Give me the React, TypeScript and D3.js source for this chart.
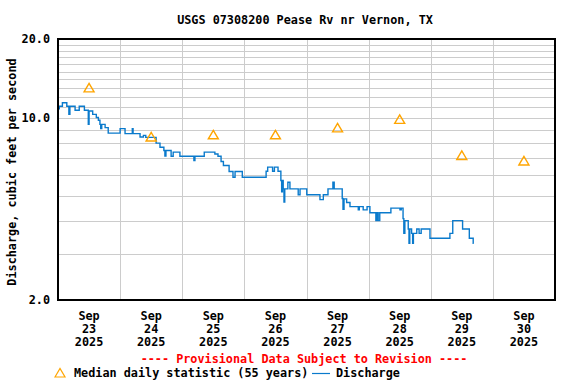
import React from 'react'
import * as d3 from 'd3'

// data
const days = ['23', '24', '25', '26', '27', '28', '29', '30']
const monthLabel = 'Sep'
const yearLabel = '2025'
const medianCfs = [13.0, 8.43, 8.59, 8.59, 9.13, 9.84, 7.16, 6.82]

// discharge change points: hours after Sep 23 00:00, value in cfs (step line)
const dischargeHours = [
  0, 0.5, 1.7, 3.4, 4.2, 4.6, 6.6, 8.2, 10.2, 11.7, 12.0, 13.4, 14.8, 15.6, 16.2, 16.5, 16.9, 18.2, 19.4,
  24.0, 25.9, 28.7, 29.0, 31.7, 33.0, 33.9, 37.9, 39.4, 40.9, 41.3, 41.7, 43.7, 44.5, 47.1,
  52.5, 52.9, 56.5, 60.6, 61.8, 63.0, 63.9, 66.1, 67.6, 68.4, 71.2,
  80.4, 81.0, 82.9, 83.6, 85.0, 86.1, 86.4, 86.7, 87.0, 87.3, 87.6, 88.8, 89.6, 92.8, 93.5, 96.1,
  101.2, 102.5, 104.3, 106.2, 106.7, 109.8, 110.1, 110.5, 111.5, 112.8, 116.0, 116.4, 117.9, 119.4,
  120.5, 122.8, 123.3, 123.7, 124.3, 128.6, 132.1, 132.6, 133.3, 133.6, 134.0, 135.3, 135.6, 135.9,
  136.6, 137.0, 137.3, 138.6, 139.5, 140.3, 143.7, 151.4, 152.5, 156.3, 158.9, 160.4, 160.6,
]
const dischargeCfs = [
  10.8, 11.05, 11.4, 11.05, 10.3, 11.05, 10.67, 11.05, 10.67, 9.42, 10.6, 10.29, 10.0, 9.76, 9.42, 9.07, 9.42, 9.15, 8.72,
  9.07, 8.68, 9.07, 8.68, 8.42, 8.55, 8.4, 7.98, 7.7, 7.48, 7.12, 7.48, 7.11, 7.37, 7.11,
  6.85, 7.11, 7.37, 7.25, 7.11, 6.79, 6.55, 6.21, 5.91, 6.21, 5.91,
  6.23, 6.46, 6.23, 6.46, 6.23, 5.74, 5.2, 5.74, 5.33, 4.75, 5.33, 5.65, 5.33, 5.06, 5.33, 5.06,
  4.85, 5.06, 5.33, 5.65, 5.33, 4.9, 4.45, 4.88, 4.73, 4.56, 4.43, 4.56, 4.43, 4.56,
  4.32, 4.03, 4.32, 4.03, 4.32, 4.5, 4.43, 4.5, 4.1, 3.6, 4.03, 3.74, 3.3, 3.74,
  3.6, 3.3, 3.6, 3.74, 3.6, 3.74, 3.45, 3.6, 4.03, 3.74, 3.45, 3.3, 3.3,
]
const yMinorTicks = [3, 4, 5, 6, 7, 8, 9, 10, 11, 12, 13, 14, 15, 16, 17, 18, 19]
const yLabels = [20, 10, 2]

const font = '"DejaVu Sans Mono", "Liberation Mono", monospace'

export default function App() {
  const width = 576, height = 384
  const left = 58, right = 555, top = 39, bottom = 300

  const x = d3.scaleLinear().domain([0, days.length * 24]).range([left, right])
  const y = d3.scaleLog().domain([2, 20]).range([bottom, top])

  const pts: [number, number][] = dischargeHours.map((h, i) => [h, dischargeCfs[i]])
  const line = d3.line<[number, number]>()
    .x(d => x(d[0]))
    .y(d => y(d[1]))
    .curve(d3.curveStepAfter)

  const tri = (cx: number, cy: number) =>
    `M${cx - 5},${cy + 4}L${cx},${cy - 4.5}L${cx + 5},${cy + 4}Z`

  return (
    <svg width={width} height={height} style={{ position: 'absolute', left: 0, top: 0 }}
      fontFamily={font} fontWeight="bold" fontSize={11.8}>
      <rect width={width} height={height} fill="white" />
      <text x={305} y={24} textAnchor="middle">USGS 07308200 Pease Rv nr Vernon, TX</text>

      {/* grid */}
      <g stroke="#cccccc" strokeWidth={1} shapeRendering="crispEdges">
        {yMinorTicks.map(v => (
          <line key={v} x1={left} x2={right} y1={Math.round(y(v)) + 0.5} y2={Math.round(y(v)) + 0.5} />
        ))}
        {days.slice(1).map((d, i) => {
          const xx = Math.round(x((i + 1) * 24)) + 0.5
          return <line key={d} x1={xx} x2={xx} y1={top} y2={bottom} />
        })}
      </g>

      {/* discharge */}
      <path d={line(pts) ?? ''} fill="none" stroke="#0a7acc" strokeWidth={1.4} />

      {/* median markers */}
      {medianCfs.map((v, i) => (
        <path key={i} d={tri(x(i * 24 + 12), y(v))} fill="none" stroke="#ffa500" strokeWidth={1.4} />
      ))}

      <rect x={left} y={top} width={right - left} height={bottom - top} fill="none" stroke="black" strokeWidth={1.6} shapeRendering="crispEdges" />

      {/* y labels */}
      {yLabels.map(v => (
        <text key={v} x={50} y={y(v) + 4} textAnchor="end">{v.toFixed(1)}</text>
      ))}
      <text transform={`translate(16,172) rotate(-90)`} textAnchor="middle">Discharge, cubic feet per second</text>

      {/* x labels */}
      {days.map((d, i) => {
        const xx = x(i * 24 + 12)
        return (
          <g key={d} textAnchor="middle">
            <text x={xx} y={320}>{monthLabel}</text>
            <text x={xx} y={333}>{d}</text>
            <text x={xx} y={346}>{yearLabel}</text>
          </g>
        )
      })}

      <text x={304} y={363} textAnchor="middle" fill="#ff0000">---- Provisional Data Subject to Revision ----</text>

      {/* legend */}
      <path d={tri(60, 373)} fill="none" stroke="#ffa500" strokeWidth={1.2} />
      <text x={74} y={377}>Median daily statistic (55 years)</text>
      <line x1={312} x2={330} y1={373.5} y2={373.5} stroke="#0a7acc" strokeWidth={1.2} />
      <text x={336} y={377}>Discharge</text>
    </svg>
  )
}
